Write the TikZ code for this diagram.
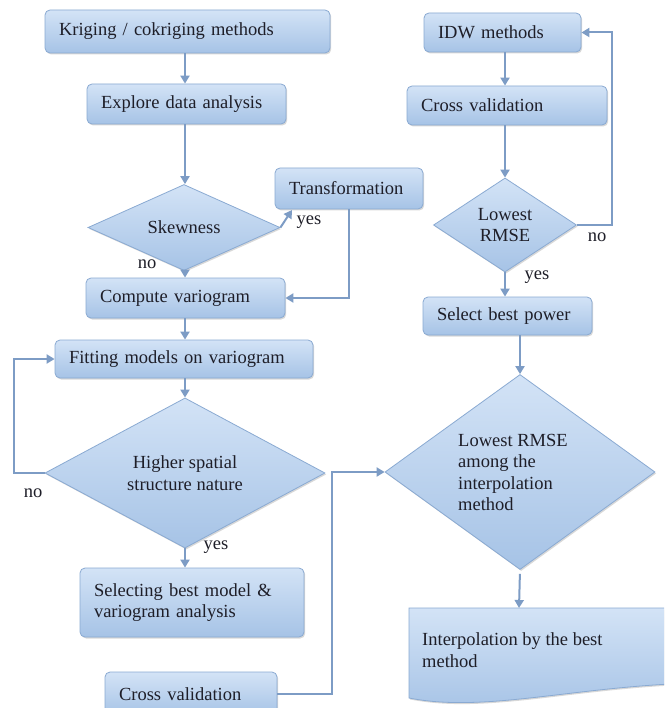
\documentclass[tikz,border=0pt]{standalone}
\usepackage{fontspec}
\setmainfont{Liberation Serif}
\usetikzlibrary{shapes.geometric,shadows,arrows.meta,calc}
\definecolor{bfillA}{HTML}{D3E3F6}
\definecolor{bfillB}{HTML}{A6C3E6}
\definecolor{bdraw}{HTML}{8AAAD2}
\definecolor{arr}{HTML}{7D9CC5}
\definecolor{txt}{HTML}{1E1E28}
\begin{document}
\begin{tikzpicture}[x=1pt,y=-1pt,
 every node/.style={font=\fontsize{18.5}{21.5}\selectfont, text=txt},
 boxsh/.style={draw=bdraw, line width=0.8pt, top color=bfillA, bottom color=bfillB,
   drop shadow={shadow xshift=1.2pt, shadow yshift=-1.5pt, opacity=0.3}},
 box/.style={boxsh, rectangle, rounded corners=5pt, align=left, inner xsep=14pt, inner ysep=0pt},
 dia/.style={boxsh, diamond, inner sep=0pt, align=center},
 conn/.style={draw=arr, line width=2pt, -{Triangle[width=9pt,length=8pt]}},
 lbl/.style={inner sep=0pt}
]
\useasboundingbox (0,0) rectangle (664,708);
\clip (0,0) rectangle (664,708);
\fill[white] (0,0) rectangle (664,708);
\coordinate (cx) at (185,0);

% left column
\node[box, minimum width=285pt, text width=257pt, minimum height=43pt] (kr) at (187.5,31.5) {Kriging / cokriging methods};
\node[box, minimum width=199pt, text width=171pt, minimum height=40pt] (eda) at (186.5,104) {Explore data analysis};
\node[dia, minimum width=192pt, minimum height=55pt] (skw) at (184,227.5) {Skewness};
\node[box, minimum width=148pt, text width=120pt, minimum height=41pt] (trf) at (349,188.5) {Transformation};
\node[box, minimum width=199pt, text width=171pt, minimum height=40pt] (cvg) at (185.5,298) {Compute variogram};
\node[box, minimum width=258pt, text width=230pt, minimum height=38pt] (fit) at (184,359) {Fitting models on variogram};
\node[dia, minimum width=280pt, minimum height=105pt] (hsn) at (185,473) {Higher spatial\\structure nature};
\node[box, minimum width=224pt, text width=196pt, minimum height=69pt] (sel) at (192,602.5) {Selecting best model \&\\variogram analysis};
\node[box, minimum width=172pt, text width=144pt, minimum height=44pt] (cvb) at (191,694) {Cross validation};

% right column
\node[box, minimum width=157pt, text width=129pt, minimum height=39pt] (idw) at (502.5,32.5) {IDW methods};
\node[box, minimum width=200pt, text width=172pt, minimum height=39pt] (cvr) at (507,105.5) {Cross validation};
\node[dia, minimum width=143pt, minimum height=94pt] (low) at (505,225) {Lowest\\RMSE};
\node[box, minimum width=169pt, text width=141pt, minimum height=38pt] (sbp) at (507.5,316) {Select best power};
\node[dia, minimum width=270pt, minimum height=195pt] (big) at (520,472) {};
\node[lbl, anchor=west, align=left] (bigt) at (458,472.5) {Lowest RMSE\\among the\\interpolation\\method};

\path[boxsh] (409,608) -- (670,608) -- (670,684) .. controls (560,690) and (480,712) .. (409,698) -- cycle;
\node[lbl, anchor=west, align=left] (ipt) at (422,650) {Interpolation by the best\\method};
\coordinate (ipttop) at (519,608);
\coordinate (trfin) at (292,210);

% connectors left
\draw[conn] (cx |- kr.south) -- (cx |- eda.north);
\draw[conn] (cx |- eda.south) -- (cx |- skw.north);
\draw[conn] (skw.east) -- (trfin);
\draw[conn] (cx |- skw.south) -- (cx |- cvg.north);
\draw[conn] (trf.south) -- (trf.south |- cvg.east) -- (cvg.east);
\draw[conn] (cx |- cvg.south) -- (cx |- fit.north);
\draw[conn] (cx |- fit.south) -- (hsn.north);
\draw[conn] (hsn.west) -- ++(-31,0) |- (fit.west);
\draw[conn] (hsn.south) -- (hsn.south |- sel.north);
\draw[conn] (cvb.east) -- ++(55,0) |- (big.west);

% connectors right
\draw[conn] (low.north |- idw.south) -- (low.north |- cvr.north);
\draw[conn] (low.north |- cvr.south) -- (low.north);
\draw[conn] (low.east) -- ++(35,0) |- (idw.east);
\draw[conn] (low.south) -- (low.south |- sbp.north);
\draw[conn] (big.north |- sbp.south) -- (big.north);
\draw[conn, shorten <=4pt] (big.south) -- (ipttop);

% labels
\node[lbl] (l1) at (309,222) {yes};
\node[lbl] (l2) at (147,264) {no};
\node[lbl] (l3) at (597,237) {no};
\node[lbl] (l4) at (537,277) {yes};
\node[lbl] (l5) at (33,493) {no};
\node[lbl] (l6) at (216,547) {yes};
\end{tikzpicture}
\end{document}
